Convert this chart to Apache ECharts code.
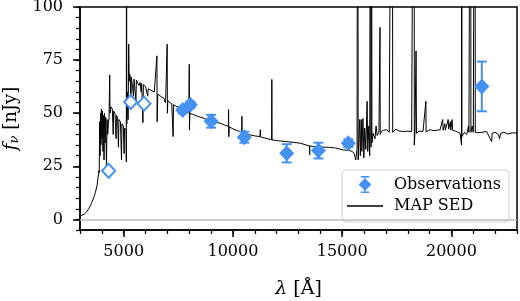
<!DOCTYPE html>
<html>
<head>
<meta charset="utf-8">
<script src="https://cdn.jsdelivr.net/npm/echarts@6/dist/echarts.min.js"></script>
<style>
html,body{margin:0;padding:0;background:#fff;}
#chart{width:520px;height:301px;}
</style>
</head>
<body>
<div id="chart"></div>
<script>
// ---- data ----
var sedWave = [3050,3200,3300,3400,3500,3600,3700,3780,3830,3870,3880,3900,3920,3940,3960,3980,4000,4030,4050,4070,4100,4120,4150,4180,4210,4240,4270,4300,4330,4360,4375,4420,4480,4520,4540,4600,4650,4670,4720,4760,4780,4850,4900,4920,4980,5020,5040,5080,5110,5120,5130,5140,5170,5200,5230,5250,5270,5300,5330,5350,5400,5450,5470,5520,5560,5580,5650,5700,5750,5800,5820,5880,5900,5950,6000,6050,6100,6120,6200,6300,6400,6480,6520,6530,6560,6650,6750,6850,6900,6920,6990,7000,7020,7100,7200,7260,7280,7350,7450,7550,7650,7750,7850,7980,8000,8010,8030,8200,8400,8640,8800,9000,9200,9410,9600,9790,9800,9810,9830,10000,10240,10400,10410,10420,10600,10780,11000,11240,11250,11260,11500,11770,11780,11790,12000,12460,12800,13070,13300,13500,13510,13520,13700,14000,14440,14700,15050,15300,15450,15550,15620,15680,15710,15730,15760,15800,15830,15870,15900,15950,15990,16030,16080,16140,16170,16220,16260,16300,16320,16340,16360,16410,16500,16550,16600,16680,16730,16740,16800,16900,17040,17150,17300,17310,17450,17600,17800,18000,18180,18290,18300,18330,18380,18400,18500,18560,18700,18830,18840,19020,19200,19480,19600,19620,19700,19720,19850,19870,19950,19970,20030,20050,20200,20400,20460,20470,20480,20600,20700,20780,20800,20880,20890,20950,21000,21080,21090,21200,21400,21610,21700,21840,21860,22000,22150,22200,22250,22400,22600,22800,22990];
var sedFlux = [1.8,2.5,3.5,5,7,9.5,12.5,16,20,23,22,46,30,50,35,52,38,51,32,49,28,50,36,48,25,47,40,45,48,68,50,53,52,40,51,50,38,49,48,34,47,46,28,45,44,31,43,42.5,42,27,300,45,60,47,82.5,65,68.5,67,55,67,66.5,58,66,66,56,65.5,65,63,64.5,60,64,45.5,63.5,63,62.5,62,58,61.5,61,60.5,60,59.5,77,46,59,58.5,57.5,57,55,56.5,82.5,50,56,55,54.5,39,54,53.5,53,52.5,52,51.5,51,50.5,73,42,50,49.3,48.5,47.7,47,46.3,45.8,45.3,44.5,43.8,51.7,38.9,43.6,42.6,41.6,41.2,48.5,40.8,40.3,39.8,39.3,39,42.2,38.8,38.2,37.5,65.9,37.4,37.1,36.6,36.2,35.9,35.2,34.6,30.3,34.6,34.3,34.1,33.9,33.6,32.7,32.5,32,31,28,33,300,28,36,47,30,47,32,47.5,29,43,33,55.6,32,44,30,300,34,300,36,40.6,38,44,39.5,41,90.4,40,41.5,42,42.2,41,300,41,42.5,41.6,41.4,41.5,41.4,300,35,41,79.3,40.5,41.4,41.7,41.5,55.6,41.2,42.2,41.8,42.2,47,42,45,42,47,42.5,46,42,47,42,41.5,40.5,35,300,39,41,40,44,41,300,41,44,41,300,41,40.8,41,41.4,40.5,36.6,40.5,41,40,38,40.5,41,40.2,40.8,40.6];

var obsWave = [7700, 8050, 9000, 10520, 12460, 13910, 15280, 21390];
var obsFlux = [51.5, 54.0, 46.2, 38.7, 31.1, 32.4, 35.9, 62.6];
var obsErr  = [1.5, 1.5, 3.0, 2.6, 4.3, 3.7, 1.8, 11.7];

var hollowWave = [4310, 5320, 5930];
var hollowFlux = [22.9, 55.3, 54.5];

var xMajorTicks = [5000, 10000, 15000, 20000];
var yMajorTicks = [0, 25, 50, 75, 100];

// ---- chart ----
var BLUE = '#4491f2';
var FONT = 'DejaVu Serif';
var chart = echarts.init(document.getElementById('chart'), null, {renderer: 'canvas'});

var sedData = sedWave.map(function (w, i) { return [w, sedFlux[i]]; });
var obsData = obsWave.map(function (w, i) { return [w, obsFlux[i]]; });
var errData = obsWave.map(function (w, i) { return [w, obsFlux[i], obsErr[i]]; });
var hollowData = hollowWave.map(function (w, i) { return [w, hollowFlux[i]]; });

var obsIcon = 'path://M6,2 L12,8 L6,14 L0,8 Z M2,0 H10 V1.5 H2 Z M2,14.5 H10 V16 H2 Z M5.3,0 H6.7 V16 H5.3 Z';
var lineIcon = 'path://M0,0 H36 V1.6 H0 Z';
var plain = function (v) { return String(v); };

var option = {
  animation: false,
  backgroundColor: '#fff',
  grid: {left: 80, right: 3, top: 7, bottom: 71, containLabel: false, outerBoundsMode: 'none',
    show: true, borderColor: '#000', borderWidth: 1.5, backgroundColor: 'transparent'},
  xAxis: [
    {
      type: 'value', min: 3000, max: 23000, interval: 1000, position: 'bottom',
      axisLine: {show: true, onZero: false, lineStyle: {color: '#000', width: 1.5}},
      axisTick: {show: true, length: 4, lineStyle: {color: '#000', width: 1.2}},
      axisLabel: {show: false},
      splitLine: {show: false}
    },
    {
      type: 'value', min: 3000, max: 23000, position: 'bottom',
      axisLine: {show: false, onZero: false},
      axisTick: {show: true, length: 7, customValues: xMajorTicks, lineStyle: {color: '#000', width: 1.5}},
      axisLabel: {show: true, customValues: xMajorTicks, formatter: plain, margin: 14, color: '#000', fontFamily: FONT, fontSize: 16},
      splitLine: {show: false},
      name: '{i|λ} [Å]', nameLocation: 'middle', nameGap: 50,
      nameTextStyle: {color: '#000', fontFamily: FONT, fontSize: 19,
        rich: {i: {fontStyle: 'italic', fontFamily: FONT, fontSize: 19, color: '#000'}}}
    }
  ],
  yAxis: [
    {
      type: 'value', min: -5, max: 100, interval: 5, position: 'left',
      axisLine: {show: true, onZero: false, lineStyle: {color: '#000', width: 1.5}},
      axisTick: {show: true, length: 4, lineStyle: {color: '#000', width: 1.2}},
      axisLabel: {show: false},
      splitLine: {show: false}
    },
    {
      type: 'value', min: -5, max: 100, position: 'left',
      axisLine: {show: false, onZero: false},
      axisTick: {show: true, length: 7, customValues: yMajorTicks, lineStyle: {color: '#000', width: 1.5}},
      axisLabel: {show: true, customValues: yMajorTicks, formatter: plain, margin: 17, color: '#000', fontFamily: FONT, fontSize: 16},
      splitLine: {show: false},
      name: '{i|f}{s|ν} [nJy]', nameLocation: 'middle', nameGap: 50, nameRotate: 90,
      nameTextStyle: {color: '#000', fontFamily: FONT, fontSize: 18,
        rich: {
          i: {fontStyle: 'italic', fontFamily: FONT, fontSize: 18, color: '#000'},
          s: {fontStyle: 'italic', fontFamily: FONT, fontSize: 13, color: '#000', verticalAlign: 'bottom', padding: [8, 0, 0, 0]}
        }}
    }
  ],
  legend: {
    orient: 'vertical', left: 342, top: 170,
    padding: [6, 8, 8, 5], itemGap: 5,
    itemWidth: 36, itemHeight: 17,
    backgroundColor: 'rgba(255,255,255,0.85)', borderColor: '#d0d0d0', borderWidth: 1, borderRadius: 4,
    textStyle: {color: '#000', fontFamily: FONT, fontSize: 16, padding: [0, 0, 0, 6]},
    data: [
      {name: 'Observations', icon: obsIcon, itemStyle: {color: BLUE}},
      {name: 'MAP SED', icon: lineIcon, itemStyle: {color: '#000'}}
    ]
  },
  series: [
    {
      name: 'zero', type: 'line', xAxisIndex: 0, yAxisIndex: 0, data: [],
      markLine: {silent: true, symbol: 'none', label: {show: false},
        lineStyle: {color: '#bdbdbd', width: 1.5, type: 'solid'}, data: [{yAxis: 0}]},
      z: 1
    },
    {
      name: 'MAP SED', type: 'line', xAxisIndex: 0, yAxisIndex: 0, data: sedData,
      showSymbol: false, symbol: 'none', clip: true,
      lineStyle: {color: '#000', width: 1}, itemStyle: {color: '#000'}, z: 2
    },
    {
      name: 'obsErr', type: 'custom', xAxisIndex: 0, yAxisIndex: 0, data: errData, z: 3,
      renderItem: function (params, api) {
        var x = api.value(0), y = api.value(1), e = api.value(2);
        var lo = api.coord([x, y - e]), hi = api.coord([x, y + e]);
        var hw = 5;
        var st = {stroke: BLUE, lineWidth: 2};
        return {type: 'group', children: [
          {type: 'line', shape: {x1: lo[0], y1: lo[1], x2: hi[0], y2: hi[1]}, style: st},
          {type: 'line', shape: {x1: lo[0] - hw, y1: lo[1], x2: lo[0] + hw, y2: lo[1]}, style: st},
          {type: 'line', shape: {x1: hi[0] - hw, y1: hi[1], x2: hi[0] + hw, y2: hi[1]}, style: st}
        ]};
      }
    },
    {
      name: 'Observations', type: 'scatter', xAxisIndex: 0, yAxisIndex: 0, data: obsData,
      symbol: 'diamond', symbolSize: [15, 16], itemStyle: {color: BLUE, opacity: 1}, z: 4
    },
    {
      name: 'hollow', type: 'scatter', xAxisIndex: 0, yAxisIndex: 0, data: hollowData,
      symbol: 'diamond', symbolSize: [13, 14],
      itemStyle: {color: '#fff', borderColor: BLUE, borderWidth: 2, opacity: 1}, z: 4
    }
  ]
};
chart.setOption(option);
</script>
</body>
</html>
